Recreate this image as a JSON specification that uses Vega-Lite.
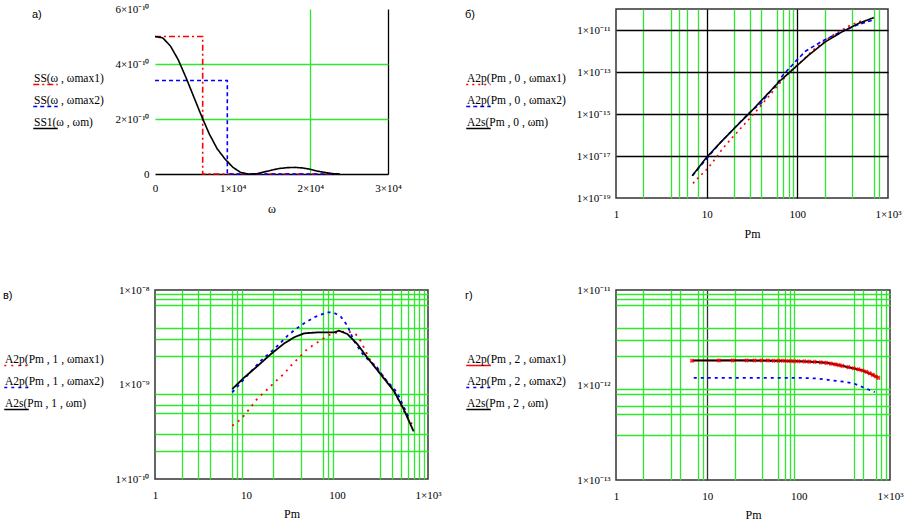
{
  "$schema": "https://vega.github.io/schema/vega-lite/v6.json",
  "background": "white",
  "padding": {"left": 2, "top": 3, "right": 2, "bottom": 2},
  "columns": 2,
  "spacing": {"row": 43, "column": 22},
  "resolve": {"scale": {"color": "independent", "strokeDash": "independent"}, "legend": {"color": "independent", "strokeDash": "independent"}},
  "config": {
    "font": "Liberation Serif",
    "view": {"stroke": "#333333", "strokeWidth": 1.5},
    "axis": {
      "labelFont": "Liberation Serif", "labelFontSize": 11, "labelColor": "black",
      "titleFont": "Liberation Serif", "titleFontSize": 12, "titleFontWeight": "normal", "titleColor": "black",
      "ticks": false, "domain": false, "labelOverlap": false, "labelFlush": false,
      "gridWidth": 1.3, "labelPadding": 6
    },
    "legend": {
      "orient": "left", "offset": 10, "padding": 0,
      "symbolType": "stroke", "symbolSize": 600, "symbolStrokeWidth": 1.6,
      "labelFont": "Liberation Serif", "labelFontSize": 11.5, "labelColor": "black",
      "labelOffset": -25, "labelBaseline": "line-bottom", "labelLimit": 0,
      "rowPadding": 5,
      "titleFont": "Liberation Sans", "titleFontSize": 11, "titleFontWeight": "normal", "titleColor": "black",
      "titlePadding": 51, "titleLimit": 0
    }
  },
  "datasets": {
    "a": [
      {"x": 0, "y": 5.0e-10, "s": "SS(ω , ωmax1)"},
      {"x": 6140, "y": 5.0e-10, "s": "SS(ω , ωmax1)"},
      {"x": 6140, "y": 0, "s": "SS(ω , ωmax1)"},
      {"x": 23800, "y": 0, "s": "SS(ω , ωmax1)"},
      {"x": 0, "y": 3.4e-10, "s": "SS(ω , ωmax2)"},
      {"x": 9310, "y": 3.4e-10, "s": "SS(ω , ωmax2)"},
      {"x": 9310, "y": 0, "s": "SS(ω , ωmax2)"},
      {"x": 23800, "y": 0, "s": "SS(ω , ωmax2)"},
      {"x": 0, "y": 5.0e-10, "s": "SS1(ω , ωm)"},
      {"x": 1000, "y": 4.95e-10, "s": "SS1(ω , ωm)"},
      {"x": 2000, "y": 4.65e-10, "s": "SS1(ω , ωm)"},
      {"x": 3000, "y": 4.15e-10, "s": "SS1(ω , ωm)"},
      {"x": 4000, "y": 3.5e-10, "s": "SS1(ω , ωm)"},
      {"x": 5000, "y": 2.8e-10, "s": "SS1(ω , ωm)"},
      {"x": 6000, "y": 2.1e-10, "s": "SS1(ω , ωm)"},
      {"x": 7000, "y": 1.45e-10, "s": "SS1(ω , ωm)"},
      {"x": 8000, "y": 0.92e-10, "s": "SS1(ω , ωm)"},
      {"x": 9000, "y": 0.55e-10, "s": "SS1(ω , ωm)"},
      {"x": 10000, "y": 0.25e-10, "s": "SS1(ω , ωm)"},
      {"x": 11000, "y": 0.06e-10, "s": "SS1(ω , ωm)"},
      {"x": 12000, "y": 0, "s": "SS1(ω , ωm)"},
      {"x": 13000, "y": 0.005e-10, "s": "SS1(ω , ωm)"},
      {"x": 14000, "y": 0.07e-10, "s": "SS1(ω , ωm)"},
      {"x": 15000, "y": 0.14e-10, "s": "SS1(ω , ωm)"},
      {"x": 16000, "y": 0.2e-10, "s": "SS1(ω , ωm)"},
      {"x": 17000, "y": 0.23e-10, "s": "SS1(ω , ωm)"},
      {"x": 18000, "y": 0.24e-10, "s": "SS1(ω , ωm)"},
      {"x": 19000, "y": 0.22e-10, "s": "SS1(ω , ωm)"},
      {"x": 20000, "y": 0.17e-10, "s": "SS1(ω , ωm)"},
      {"x": 21000, "y": 0.1e-10, "s": "SS1(ω , ωm)"},
      {"x": 22000, "y": 0.05e-10, "s": "SS1(ω , ωm)"},
      {"x": 23000, "y": 0.01e-10, "s": "SS1(ω , ωm)"},
      {"x": 23800, "y": 0, "s": "SS1(ω , ωm)"}
    ],
    "b": [
      {"x": 7.06, "y": 5.0e-19, "s": "A2p(Pm , 0 , ωmax1)"},
      {"x": 8.5, "y": 1.15e-18, "s": "A2p(Pm , 0 , ωmax1)"},
      {"x": 10.3, "y": 2.57e-18, "s": "A2p(Pm , 0 , ωmax1)"},
      {"x": 12.7, "y": 8.3e-18, "s": "A2p(Pm , 0 , ωmax1)"},
      {"x": 15.1, "y": 2.34e-17, "s": "A2p(Pm , 0 , ωmax1)"},
      {"x": 18.1, "y": 5.75e-17, "s": "A2p(Pm , 0 , ωmax1)"},
      {"x": 22.0, "y": 1.45e-16, "s": "A2p(Pm , 0 , ωmax1)"},
      {"x": 26.7, "y": 3.63e-16, "s": "A2p(Pm , 0 , ωmax1)"},
      {"x": 32.2, "y": 8.9e-16, "s": "A2p(Pm , 0 , ωmax1)"},
      {"x": 39.7, "y": 2.5e-15, "s": "A2p(Pm , 0 , ωmax1)"},
      {"x": 48.2, "y": 6.76e-15, "s": "A2p(Pm , 0 , ωmax1)"},
      {"x": 58, "y": 1.78e-14, "s": "A2p(Pm , 0 , ωmax1)"},
      {"x": 68.7, "y": 4.17e-14, "s": "A2p(Pm , 0 , ωmax1)"},
      {"x": 81.3, "y": 9.55e-14, "s": "A2p(Pm , 0 , ωmax1)"},
      {"x": 105, "y": 2.57e-13, "s": "A2p(Pm , 0 , ωmax1)"},
      {"x": 160, "y": 1.45e-12, "s": "A2p(Pm , 0 , ωmax1)"},
      {"x": 239, "y": 5.2e-12, "s": "A2p(Pm , 0 , ωmax1)"},
      {"x": 370, "y": 1.55e-11, "s": "A2p(Pm , 0 , ωmax1)"},
      {"x": 541, "y": 3.0e-11, "s": "A2p(Pm , 0 , ωmax1)"},
      {"x": 6.94, "y": 1.15e-18, "s": "A2p(Pm , 0 , ωmax2)"},
      {"x": 13.9, "y": 3.98e-17, "s": "A2p(Pm , 0 , ωmax2)"},
      {"x": 29.5, "y": 1.15e-15, "s": "A2p(Pm , 0 , ωmax2)"},
      {"x": 39.7, "y": 3.24e-15, "s": "A2p(Pm , 0 , ωmax2)"},
      {"x": 48.2, "y": 9.5e-15, "s": "A2p(Pm , 0 , ωmax2)"},
      {"x": 58, "y": 2.24e-14, "s": "A2p(Pm , 0 , ωmax2)"},
      {"x": 68.7, "y": 6.76e-14, "s": "A2p(Pm , 0 , ωmax2)"},
      {"x": 81.3, "y": 1.48e-13, "s": "A2p(Pm , 0 , ωmax2)"},
      {"x": 96, "y": 3.3e-13, "s": "A2p(Pm , 0 , ωmax2)"},
      {"x": 124, "y": 1.0e-12, "s": "A2p(Pm , 0 , ωmax2)"},
      {"x": 189, "y": 3.0e-12, "s": "A2p(Pm , 0 , ωmax2)"},
      {"x": 313, "y": 8.9e-12, "s": "A2p(Pm , 0 , ωmax2)"},
      {"x": 477, "y": 1.86e-11, "s": "A2p(Pm , 0 , ωmax2)"},
      {"x": 665, "y": 2.88e-11, "s": "A2p(Pm , 0 , ωmax2)"},
      {"x": 6.94, "y": 1.15e-18, "s": "A2s(Pm , 0 , ωm)"},
      {"x": 9.9, "y": 8.3e-18, "s": "A2s(Pm , 0 , ωm)"},
      {"x": 13.9, "y": 3.98e-17, "s": "A2s(Pm , 0 , ωm)"},
      {"x": 20.2, "y": 2.09e-16, "s": "A2s(Pm , 0 , ωm)"},
      {"x": 29.5, "y": 1.07e-15, "s": "A2s(Pm , 0 , ωm)"},
      {"x": 45.0, "y": 7.41e-15, "s": "A2s(Pm , 0 , ωm)"},
      {"x": 63.0, "y": 3.47e-14, "s": "A2s(Pm , 0 , ωm)"},
      {"x": 88.2, "y": 1.26e-13, "s": "A2s(Pm , 0 , ωm)"},
      {"x": 134, "y": 6.46e-13, "s": "A2s(Pm , 0 , ωm)"},
      {"x": 204, "y": 2.75e-12, "s": "A2s(Pm , 0 , ωm)"},
      {"x": 313, "y": 8.3e-12, "s": "A2s(Pm , 0 , ωm)"},
      {"x": 477, "y": 2.09e-11, "s": "A2s(Pm , 0 , ωm)"},
      {"x": 697, "y": 3.89e-11, "s": "A2s(Pm , 0 , ωm)"}
    ],
    "c": [
      {"x": 7.06, "y": 3.66e-10, "s": "A2p(Pm , 1 , ωmax1)"},
      {"x": 8.85, "y": 4.31e-10, "s": "A2p(Pm , 1 , ωmax1)"},
      {"x": 10.9, "y": 5.51e-10, "s": "A2p(Pm , 1 , ωmax1)"},
      {"x": 13.5, "y": 7.2e-10, "s": "A2p(Pm , 1 , ωmax1)"},
      {"x": 16.6, "y": 8.61e-10, "s": "A2p(Pm , 1 , ωmax1)"},
      {"x": 20.5, "y": 1.05e-9, "s": "A2p(Pm , 1 , ωmax1)"},
      {"x": 26.4, "y": 1.31e-9, "s": "A2p(Pm , 1 , ωmax1)"},
      {"x": 31.2, "y": 1.58e-9, "s": "A2p(Pm , 1 , ωmax1)"},
      {"x": 38.4, "y": 1.94e-9, "s": "A2p(Pm , 1 , ωmax1)"},
      {"x": 47.4, "y": 2.38e-9, "s": "A2p(Pm , 1 , ωmax1)"},
      {"x": 61, "y": 2.79e-9, "s": "A2p(Pm , 1 , ωmax1)"},
      {"x": 78.4, "y": 3.29e-9, "s": "A2p(Pm , 1 , ωmax1)"},
      {"x": 101, "y": 3.56e-9, "s": "A2p(Pm , 1 , ωmax1)"},
      {"x": 130, "y": 3.66e-9, "s": "A2p(Pm , 1 , ωmax1)"},
      {"x": 160, "y": 3.42e-9, "s": "A2p(Pm , 1 , ωmax1)"},
      {"x": 181, "y": 2.91e-9, "s": "A2p(Pm , 1 , ωmax1)"},
      {"x": 233, "y": 1.79e-9, "s": "A2p(Pm , 1 , ωmax1)"},
      {"x": 300, "y": 1.35e-9, "s": "A2p(Pm , 1 , ωmax1)"},
      {"x": 420, "y": 8.6e-10, "s": "A2p(Pm , 1 , ωmax1)"},
      {"x": 540, "y": 5.28e-10, "s": "A2p(Pm , 1 , ωmax1)"},
      {"x": 666, "y": 3.82e-10, "s": "A2p(Pm , 1 , ωmax1)"},
      {"x": 7.06, "y": 8.26e-10, "s": "A2p(Pm , 1 , ωmax2)"},
      {"x": 9.6, "y": 1.15e-9, "s": "A2p(Pm , 1 , ωmax2)"},
      {"x": 14.6, "y": 1.79e-9, "s": "A2p(Pm , 1 , ωmax2)"},
      {"x": 20.5, "y": 2.38e-9, "s": "A2p(Pm , 1 , ωmax2)"},
      {"x": 28.7, "y": 3.29e-9, "s": "A2p(Pm , 1 , ωmax2)"},
      {"x": 35.3, "y": 3.87e-9, "s": "A2p(Pm , 1 , ωmax2)"},
      {"x": 43.6, "y": 4.44e-9, "s": "A2p(Pm , 1 , ωmax2)"},
      {"x": 56, "y": 5.14e-9, "s": "A2p(Pm , 1 , ωmax2)"},
      {"x": 78.4, "y": 5.81e-9, "s": "A2p(Pm , 1 , ωmax2)"},
      {"x": 92.7, "y": 5.76e-9, "s": "A2p(Pm , 1 , ωmax2)"},
      {"x": 110, "y": 5.22e-9, "s": "A2p(Pm , 1 , ωmax2)"},
      {"x": 130, "y": 4.2e-9, "s": "A2p(Pm , 1 , ωmax2)"},
      {"x": 153, "y": 2.91e-9, "s": "A2p(Pm , 1 , ωmax2)"},
      {"x": 197, "y": 2.02e-9, "s": "A2p(Pm , 1 , ωmax2)"},
      {"x": 276, "y": 1.52e-9, "s": "A2p(Pm , 1 , ωmax2)"},
      {"x": 326, "y": 1.19e-9, "s": "A2p(Pm , 1 , ωmax2)"},
      {"x": 456, "y": 8.26e-10, "s": "A2p(Pm , 1 , ωmax2)"},
      {"x": 612, "y": 4.5e-10, "s": "A2p(Pm , 1 , ωmax2)"},
      {"x": 7.06, "y": 8.95e-10, "s": "A2s(Pm , 1 , ωm)"},
      {"x": 9.6, "y": 1.19e-9, "s": "A2s(Pm , 1 , ωm)"},
      {"x": 13.5, "y": 1.58e-9, "s": "A2s(Pm , 1 , ωm)"},
      {"x": 18.8, "y": 2.1e-9, "s": "A2s(Pm , 1 , ωm)"},
      {"x": 26.4, "y": 2.73e-9, "s": "A2s(Pm , 1 , ωm)"},
      {"x": 33.9, "y": 3.16e-9, "s": "A2s(Pm , 1 , ωm)"},
      {"x": 43.6, "y": 3.48e-9, "s": "A2s(Pm , 1 , ωm)"},
      {"x": 61, "y": 3.56e-9, "s": "A2s(Pm , 1 , ωm)"},
      {"x": 92.7, "y": 3.56e-9, "s": "A2s(Pm , 1 , ωm)"},
      {"x": 105, "y": 3.71e-9, "s": "A2s(Pm , 1 , ωm)"},
      {"x": 130, "y": 3.42e-9, "s": "A2s(Pm , 1 , ωm)"},
      {"x": 167, "y": 2.68e-9, "s": "A2s(Pm , 1 , ωm)"},
      {"x": 214, "y": 1.94e-9, "s": "A2s(Pm , 1 , ωm)"},
      {"x": 300, "y": 1.29e-9, "s": "A2s(Pm , 1 , ωm)"},
      {"x": 420, "y": 8.6e-10, "s": "A2s(Pm , 1 , ωm)"},
      {"x": 540, "y": 5.5e-10, "s": "A2s(Pm , 1 , ωm)"},
      {"x": 695, "y": 3.19e-10, "s": "A2s(Pm , 1 , ωm)"}
    ],
    "d": [
      {"x": 6.8, "y": 1.80e-12, "s": "A2p(Pm , 2 , ωmax1)"},
      {"x": 13.4, "y": 1.81e-12, "s": "A2p(Pm , 2 , ωmax1)"},
      {"x": 19, "y": 1.81e-12, "s": "A2p(Pm , 2 , ωmax1)"},
      {"x": 27, "y": 1.81e-12, "s": "A2p(Pm , 2 , ωmax1)"},
      {"x": 33, "y": 1.81e-12, "s": "A2p(Pm , 2 , ωmax1)"},
      {"x": 39, "y": 1.81e-12, "s": "A2p(Pm , 2 , ωmax1)"},
      {"x": 46, "y": 1.81e-12, "s": "A2p(Pm , 2 , ωmax1)"},
      {"x": 53, "y": 1.80e-12, "s": "A2p(Pm , 2 , ωmax1)"},
      {"x": 60, "y": 1.80e-12, "s": "A2p(Pm , 2 , ωmax1)"},
      {"x": 67, "y": 1.80e-12, "s": "A2p(Pm , 2 , ωmax1)"},
      {"x": 74, "y": 1.79e-12, "s": "A2p(Pm , 2 , ωmax1)"},
      {"x": 82, "y": 1.79e-12, "s": "A2p(Pm , 2 , ωmax1)"},
      {"x": 90, "y": 1.78e-12, "s": "A2p(Pm , 2 , ωmax1)"},
      {"x": 100, "y": 1.78e-12, "s": "A2p(Pm , 2 , ωmax1)"},
      {"x": 115, "y": 1.77e-12, "s": "A2p(Pm , 2 , ωmax1)"},
      {"x": 130, "y": 1.76e-12, "s": "A2p(Pm , 2 , ωmax1)"},
      {"x": 150, "y": 1.75e-12, "s": "A2p(Pm , 2 , ωmax1)"},
      {"x": 175, "y": 1.73e-12, "s": "A2p(Pm , 2 , ωmax1)"},
      {"x": 200, "y": 1.71e-12, "s": "A2p(Pm , 2 , ωmax1)"},
      {"x": 225, "y": 1.68e-12, "s": "A2p(Pm , 2 , ωmax1)"},
      {"x": 250, "y": 1.65e-12, "s": "A2p(Pm , 2 , ωmax1)"},
      {"x": 275, "y": 1.62e-12, "s": "A2p(Pm , 2 , ωmax1)"},
      {"x": 300, "y": 1.59e-12, "s": "A2p(Pm , 2 , ωmax1)"},
      {"x": 350, "y": 1.54e-12, "s": "A2p(Pm , 2 , ωmax1)"},
      {"x": 400, "y": 1.50e-12, "s": "A2p(Pm , 2 , ωmax1)"},
      {"x": 450, "y": 1.46e-12, "s": "A2p(Pm , 2 , ωmax1)"},
      {"x": 500, "y": 1.42e-12, "s": "A2p(Pm , 2 , ωmax1)"},
      {"x": 550, "y": 1.38e-12, "s": "A2p(Pm , 2 , ωmax1)"},
      {"x": 600, "y": 1.33e-12, "s": "A2p(Pm , 2 , ωmax1)"},
      {"x": 650, "y": 1.28e-12, "s": "A2p(Pm , 2 , ωmax1)"},
      {"x": 700, "y": 1.23e-12, "s": "A2p(Pm , 2 , ωmax1)"},
      {"x": 745, "y": 1.19e-12, "s": "A2p(Pm , 2 , ωmax1)"},
      {"x": 7.1, "y": 1.19e-12, "s": "A2p(Pm , 2 , ωmax2)"},
      {"x": 98, "y": 1.19e-12, "s": "A2p(Pm , 2 , ωmax2)"},
      {"x": 162, "y": 1.17e-12, "s": "A2p(Pm , 2 , ωmax2)"},
      {"x": 228, "y": 1.12e-12, "s": "A2p(Pm , 2 , ωmax2)"},
      {"x": 320, "y": 1.08e-12, "s": "A2p(Pm , 2 , ωmax2)"},
      {"x": 410, "y": 1.03e-12, "s": "A2p(Pm , 2 , ωmax2)"},
      {"x": 530, "y": 9.3e-13, "s": "A2p(Pm , 2 , ωmax2)"},
      {"x": 680, "y": 8.4e-13, "s": "A2p(Pm , 2 , ωmax2)"},
      {"x": 7.0, "y": 1.82e-12, "s": "A2s(Pm , 2 , ωm)"},
      {"x": 20, "y": 1.82e-12, "s": "A2s(Pm , 2 , ωm)"},
      {"x": 50, "y": 1.80e-12, "s": "A2s(Pm , 2 , ωm)"},
      {"x": 98, "y": 1.78e-12, "s": "A2s(Pm , 2 , ωm)"},
      {"x": 150, "y": 1.75e-12, "s": "A2s(Pm , 2 , ωm)"},
      {"x": 209, "y": 1.71e-12, "s": "A2s(Pm , 2 , ωm)"},
      {"x": 320, "y": 1.57e-12, "s": "A2s(Pm , 2 , ωm)"},
      {"x": 488, "y": 1.43e-12, "s": "A2s(Pm , 2 , ωm)"},
      {"x": 745, "y": 1.2e-12, "s": "A2s(Pm , 2 , ωm)"}
    ]
  },
  "concat": [
    {
      "width": 233, "height": 165,
      "data": {"name": "a"},
      "view": {"stroke": null},
      "mark": {"type": "line", "strokeWidth": 1.6},
      "encoding": {
        "x": {"field": "x", "type": "quantitative", "scale": {"domain": [0, 30000], "nice": false},
          "axis": {"title": "ω", "titlePadding": 10, "labelPadding": 8, "domain": true, "domainColor": "black", "domainWidth": 1.5,
            "values": [0, 10000, 20000, 30000],
            "labelExpr": "datum.value == 0 ? '0' : datum.value < 15000 ? '1×10⁴' : datum.value < 25000 ? '2×10⁴' : '3×10⁴'",
            "gridColor": {"condition": {"test": "datum.value > 25000", "value": "black"}, "value": "#2ee82e"},
            "gridOpacity": {"condition": {"test": "datum.value < 15000", "value": 0}, "value": 1}}},
        "y": {"field": "y", "type": "quantitative", "scale": {"domain": [0, 6e-10], "nice": false},
          "axis": {"title": null, "values": [0, 2e-10, 4e-10, 6e-10],
            "labelExpr": "datum.value == 0 ? '0' : datum.value < 3e-10 ? '2×10⁻¹⁰' : datum.value < 5e-10 ? '4×10⁻¹⁰' : '6×10⁻¹⁰'",
            "gridColor": "#2ee82e",
            "gridOpacity": {"condition": {"test": "datum.value < 1e-10 || datum.value > 5e-10", "value": 0}, "value": 1}}},
        "color": {"field": "s", "type": "nominal", "title": "а)",
          "scale": {"domain": ["SS(ω , ωmax1)", "SS(ω , ωmax2)", "SS1(ω , ωm)"], "range": ["#ff0000", "#0000ff", "#000000"]}},
        "strokeDash": {"field": "s", "type": "nominal", "title": "а)",
          "scale": {"domain": ["SS(ω , ωmax1)", "SS(ω , ωmax2)", "SS1(ω , ωm)"], "range": [[6, 3, 2, 3], [4, 3], [1, 0]]}},
        "order": {"value": null}
      }
    },
    {
      "width": 272, "height": 189,
      "data": {"name": "b"},
      "mark": {"type": "line", "strokeWidth": 1.6},
      "encoding": {
        "x": {"field": "x", "type": "quantitative", "scale": {"type": "log", "domain": [1, 1000], "nice": false},
          "axis": {"title": "Pm", "titlePadding": 9, "labelPadding": 10,
            "values": [1, 2, 4, 5, 6, 8, 10, 20, 30, 40, 60, 70, 80, 90, 100, 200, 400, 700, 800, 1000],
            "labelExpr": "datum.value == 1 ? '1' : datum.value == 10 ? '10' : datum.value == 100 ? '100' : datum.value == 1000 ? '1×10³' : ''",
            "gridColor": {"condition": {"test": "datum.value == 10 || datum.value == 100", "value": "black"}, "value": "#2ee82e"},
            "gridOpacity": {"condition": {"test": "datum.value == 1 || datum.value == 1000", "value": 0}, "value": 1}}},
        "y": {"field": "y", "type": "quantitative", "scale": {"type": "log", "domain": [1e-19, 1e-10], "nice": false},
          "axis": {"title": null, "values": [1e-19, 1e-17, 1e-15, 1e-13, 1e-11],
            "labelExpr": "datum.value < 5e-19 ? '1×10⁻¹⁹' : datum.value < 5e-17 ? '1×10⁻¹⁷' : datum.value < 5e-15 ? '1×10⁻¹⁵' : datum.value < 5e-13 ? '1×10⁻¹³' : '1×10⁻¹¹'",
            "gridColor": "black",
            "gridOpacity": {"condition": {"test": "datum.value < 5e-19", "value": 0}, "value": 1}}},
        "color": {"field": "s", "type": "nominal", "title": "б)",
          "scale": {"domain": ["A2p(Pm , 0 , ωmax1)", "A2p(Pm , 0 , ωmax2)", "A2s(Pm , 0 , ωm)"], "range": ["#ff0000", "#0000ff", "#000000"]}},
        "strokeDash": {"field": "s", "type": "nominal", "title": "б)",
          "scale": {"domain": ["A2p(Pm , 0 , ωmax1)", "A2p(Pm , 0 , ωmax2)", "A2s(Pm , 0 , ωm)"], "range": [[2, 4], [4, 3], [1, 0]]}},
        "order": {"value": null}
      }
    },
    {
      "width": 273, "height": 189,
      "data": {"name": "c"},
      "mark": {"type": "line", "strokeWidth": 1.8},
      "encoding": {
        "x": {"field": "x", "type": "quantitative", "scale": {"type": "log", "domain": [1, 1000], "nice": false},
          "axis": {"title": "Pm", "titlePadding": 8, "labelPadding": 10,
            "values": [1, 2, 3, 4, 7, 8, 9, 10, 20, 40, 70, 80, 90, 100, 300, 400, 500, 600, 700, 800, 900, 1000],
            "labelExpr": "datum.value == 1 ? '1' : datum.value == 10 ? '10' : datum.value == 100 ? '100' : datum.value == 1000 ? '1×10³' : ''",
            "gridColor": "#2ee82e",
            "gridOpacity": {"condition": {"test": "datum.value == 1 || datum.value == 10 || datum.value == 100 || datum.value == 1000", "value": 0}, "value": 1}}},
        "y": {"field": "y", "type": "quantitative", "scale": {"type": "log", "domain": [1e-10, 1e-8], "nice": false},
          "axis": {"title": null, "values": [1e-10, 2e-10, 3e-10, 5e-10, 6e-10, 8e-10, 1e-9, 2e-9, 3e-9, 4e-9, 7e-9, 8e-9, 9e-9, 1e-8],
            "labelExpr": "datum.value == 1e-10 ? '1×10⁻¹⁰' : datum.value == 1e-9 ? '1×10⁻⁹' : datum.value == 1e-8 ? '1×10⁻⁸' : ''",
            "gridColor": "#2ee82e",
            "gridOpacity": {"condition": {"test": "datum.value == 1e-10 || datum.value == 1e-9 || datum.value == 1e-8", "value": 0}, "value": 1}}},
        "color": {"field": "s", "type": "nominal", "title": "в)",
          "scale": {"domain": ["A2p(Pm , 1 , ωmax1)", "A2p(Pm , 1 , ωmax2)", "A2s(Pm , 1 , ωm)"], "range": ["#ff0000", "#0000ff", "#000000"]}},
        "strokeDash": {"field": "s", "type": "nominal", "title": "в)",
          "scale": {"domain": ["A2p(Pm , 1 , ωmax1)", "A2p(Pm , 1 , ωmax2)", "A2s(Pm , 1 , ωm)"], "range": [[2, 5], [3, 4], [1, 0]]}},
        "order": {"value": null}
      }
    },
    {
      "width": 274, "height": 190,
      "data": {"name": "d"},
      "encoding": {
        "x": {"field": "x", "type": "quantitative", "scale": {"type": "log", "domain": [1, 1000], "nice": false},
          "axis": {"title": "Pm", "titlePadding": 8, "labelPadding": 10,
            "values": [1, 2, 4, 5, 8, 9, 10, 20, 40, 60, 70, 80, 90, 100, 400, 500, 700, 800, 900, 1000],
            "labelExpr": "datum.value == 1 ? '1' : datum.value == 10 ? '10' : datum.value == 100 ? '100' : datum.value == 1000 ? '1×10³' : ''",
            "gridColor": {"condition": {"test": "datum.value == 10", "value": "#333333"}, "value": "#2ee82e"},
            "gridOpacity": {"condition": {"test": "datum.value == 1 || datum.value == 100 || datum.value == 1000", "value": 0}, "value": 1}}},
        "y": {"field": "y", "type": "quantitative", "scale": {"type": "log", "domain": [1e-13, 1e-11], "nice": false},
          "axis": {"title": null, "values": [1e-13, 3e-13, 5e-13, 6e-13, 8e-13, 9e-13, 1e-12, 2e-12, 3e-12, 4e-12, 7e-12, 8e-12, 9e-12, 1e-11],
            "labelExpr": "datum.value == 1e-13 ? '1×10⁻¹³' : datum.value == 1e-12 ? '1×10⁻¹²' : datum.value == 1e-11 ? '1×10⁻¹¹' : ''",
            "gridColor": "#2ee82e",
            "gridOpacity": {"condition": {"test": "datum.value == 1e-13 || datum.value == 1e-12 || datum.value == 1e-11", "value": 0}, "value": 1}}}
      },
      "layer": [
        {
          "mark": {"type": "line", "strokeWidth": 1.8},
          "encoding": {
            "color": {"field": "s", "type": "nominal", "title": "г)",
              "scale": {"domain": ["A2p(Pm , 2 , ωmax1)", "A2p(Pm , 2 , ωmax2)", "A2s(Pm , 2 , ωm)"], "range": ["#ff0000", "#0000ff", "#000000"]}},
            "strokeDash": {"field": "s", "type": "nominal", "title": "г)",
              "scale": {"domain": ["A2p(Pm , 2 , ωmax1)", "A2p(Pm , 2 , ωmax2)", "A2s(Pm , 2 , ωm)"], "range": [[1, 0], [3, 4], [1, 0]]}},
            "order": {"value": null}
          }
        },
        {
          "transform": [{"filter": "datum.s == 'A2p(Pm , 2 , ωmax1)'"}],
          "mark": {"type": "point", "shape": "cross", "angle": 45, "size": 22, "filled": true, "color": "#ff0000", "opacity": 0.8}
        }
      ]
    }
  ]
}
